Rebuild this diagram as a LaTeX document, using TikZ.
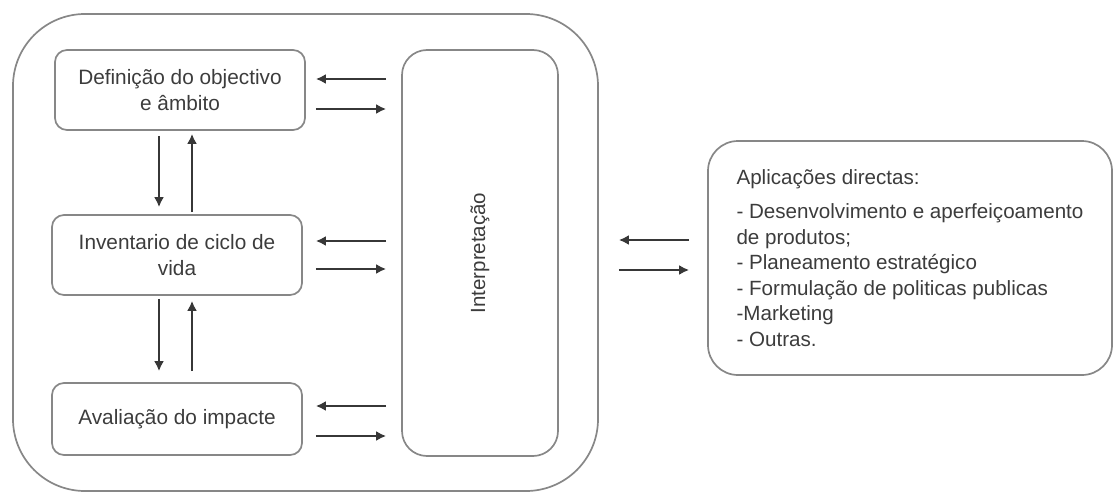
\documentclass[tikz,border=0pt]{standalone}
\usepackage{fontspec}
\setmainfont{Liberation Sans}
\usetikzlibrary{arrows.meta}
\definecolor{txt}{RGB}{60,60,60}
\definecolor{bord}{RGB}{135,135,135}
\definecolor{arrc}{RGB}{55,55,55}
\begin{document}
\begin{tikzpicture}[x=1pt,y=-1pt,
  box/.style={draw=bord, line width=1.7pt, rounded corners=12pt, align=center,
    text=txt, font=\fontsize{20.8}{26}\selectfont, inner sep=0pt},
  arr/.style={draw=arrc, line width=2.4pt, -{Latex[length=10pt,width=10pt]}}]
\useasboundingbox (0,0) rectangle (1115,495);
% outer frame
\node[draw=bord, line width=1.7pt, rounded corners=72pt, minimum width=585pt, minimum height=477pt, inner sep=0pt] (outer) at (305.5,252.5) {};
% left boxes
\node[box, minimum width=250pt, minimum height=80pt] (b1) at (180,90) {Definição do objectivo\\e âmbito};
\node[box, minimum width=250pt, minimum height=80pt] (b2) at (177,255) {Inventario de ciclo de\\vida};
\node[box, minimum width=250pt, minimum height=72pt] (b3) at (177,419) {Avaliação do impacte};
% interpretation
\node[draw=bord, line width=1.7pt, rounded corners=25pt, minimum width=156pt, minimum height=406pt, inner sep=0pt] (interp) at (480,253) {};
\node[rotate=90, text=txt, font=\fontsize{20.5}{24}\selectfont] (interptxt) at (interp.center) {Interpretação};
% applications
\node[draw=bord, line width=1.7pt, rounded corners=30pt, minimum width=404pt, minimum height=234pt, inner sep=0pt,
  align=left, text=txt, font=\fontsize{20.6}{25.5}\selectfont] (apps) at (910,258)
  {Aplicações directas:\\[9pt]
   - Desenvolvimento e aperfeiçoamento\\
   de produtos;\\
   - Planeamento estratégico\\
   - Formulação de politicas publicas\\
   -Marketing\\
   - Outras.};
% horizontal arrows between boxes and interpretation
\draw[arr, shorten <=15pt, shorten >=10pt] ([yshift=11pt]b1.east -| interp.west) -- ([yshift=11pt]b1.east);
\draw[arr, shorten <=10pt, shorten >=15pt] ([yshift=-19pt]b1.east) -- ([yshift=-19pt]b1.east -| interp.west);
\draw[arr, shorten <=15pt, shorten >=13pt] ([yshift=14pt]b2.east -| interp.west) -- ([yshift=14pt]b2.east);
\draw[arr, shorten <=13pt, shorten >=15pt] ([yshift=-14pt]b2.east) -- ([yshift=-14pt]b2.east -| interp.west);
\draw[arr, shorten <=15pt, shorten >=13pt] ([yshift=13pt]b3.east -| interp.west) -- ([yshift=13pt]b3.east);
\draw[arr, shorten <=13pt, shorten >=15pt] ([yshift=-17pt]b3.east) -- ([yshift=-17pt]b3.east -| interp.west);
% vertical arrows
\draw[arr, shorten <=5pt, shorten >=7pt] ([xshift=-21pt]b1.south) -- ([xshift=-21pt]b1.south |- b2.north);
\draw[arr, shorten <=2pt, shorten >=3pt] ([xshift=12pt]b1.south |- b2.north) -- ([xshift=12pt]b1.south);
\draw[arr, shorten <=3pt, shorten >=11pt] ([xshift=-18pt]b2.south) -- ([xshift=-18pt]b2.south |- b3.north);
\draw[arr, shorten <=11pt, shorten >=5pt] ([xshift=15pt]b2.south |- b3.north) -- ([xshift=15pt]b2.south);
% arrows between frame and applications
\draw[arr, shorten <=18pt, shorten >=20pt] ([yshift=18pt]apps.west) -- ([yshift=18pt]apps.west -| outer.east);
\draw[arr, shorten <=20pt, shorten >=18pt] ([yshift=-12pt]apps.west -| outer.east) -- ([yshift=-12pt]apps.west);
\end{tikzpicture}
\end{document}
